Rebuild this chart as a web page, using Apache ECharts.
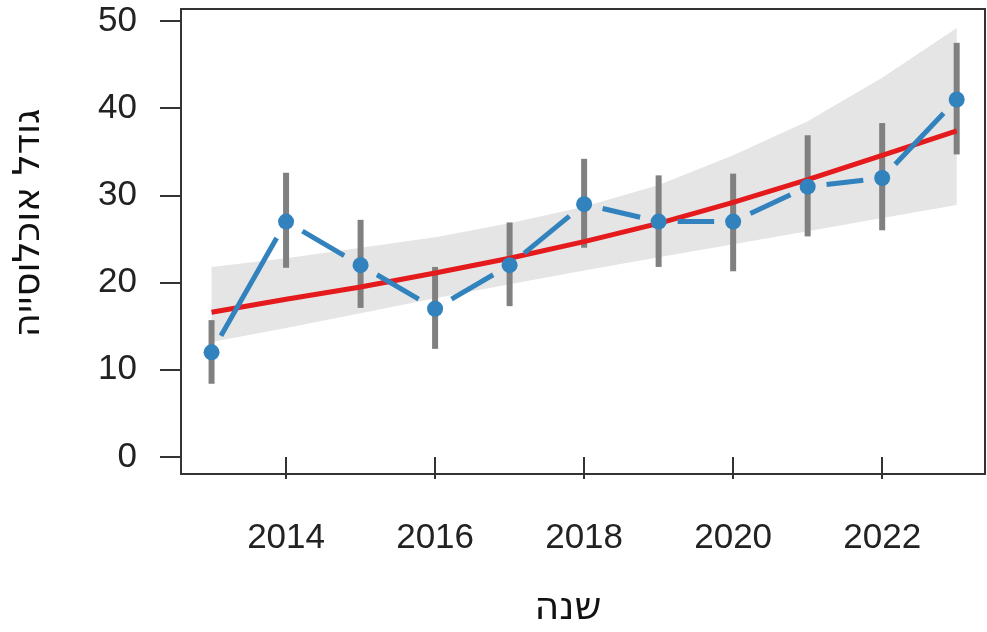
<!DOCTYPE html>
<html>
<head>
<meta charset="utf-8">
<script src="https://cdn.jsdelivr.net/npm/echarts@6/dist/echarts.min.js"></script>
<style>
html,body{margin:0;padding:0;background:#fff;}
#chart{width:987px;height:632px;}
</style>
</head>
<body>
<div id="chart"></div>
<script>
// ---- data ----
const years     = [2013, 2014, 2015, 2016, 2017, 2018, 2019, 2020, 2021, 2022, 2023];
const popMean   = [12, 27, 22, 17, 22, 29, 27, 27, 31, 32, 41];
const ciLow     = [8.4, 21.7, 17.1, 12.4, 17.3, 24.0, 21.8, 21.3, 25.3, 26.0, 34.7];
const ciHigh    = [15.7, 32.6, 27.2, 21.8, 26.9, 34.2, 32.3, 32.5, 36.9, 38.3, 47.5];
const trendFit  = [16.6, 18.1, 19.5, 21.1, 22.8, 24.7, 26.8, 29.2, 31.8, 34.6, 37.4];
const bandLow   = [13.2, 14.8, 16.5, 18.2, 19.8, 21.4, 22.9, 24.4, 25.9, 27.4, 28.9];
const bandHigh  = [21.8, 22.8, 24.0, 25.2, 26.8, 28.7, 31.2, 34.6, 38.5, 43.5, 49.2];
const xTicks    = [2014, 2016, 2018, 2020, 2022];
const yTicks    = [0, 10, 20, 30, 40, 50];
const xTitle    = 'שנה';
const yTitle    = 'גודל אוכלוסייה';

const FONT = '"Liberation Sans", "DejaVu Sans", Arial, sans-serif';
const HFONT = '"DejaVu Sans", "Liberation Sans", sans-serif';
const chart = echarts.init(document.getElementById('chart'), null, {renderer: 'canvas'});

const option = {
  animation: false,
  backgroundColor: '#ffffff',
  grid: {left: 181, right: 2, top: 9, bottom: 158, show: true, borderColor: '#333333', borderWidth: 2, backgroundColor: 'transparent'},
  xAxis: {
    type: 'value', min: 2012.59, max: 2023.38,
    axisLine: {show: false},
    splitLine: {show: false},
    axisTick: {show: true, customValues: xTicks, length: 22, lineStyle: {color: '#333333', width: 2}},
    axisLabel: {customValues: xTicks, fontSize: 35, color: '#222222', fontFamily: FONT, margin: 47, formatter: v => String(v)}
  },
  yAxis: {
    type: 'value', min: -1.95, max: 51.38,
    axisLine: {show: false},
    splitLine: {show: false},
    axisTick: {show: true, customValues: yTicks, length: 21, lineStyle: {color: '#333333', width: 2}},
    axisLabel: {customValues: yTicks, fontSize: 35, color: '#222222', fontFamily: FONT, margin: 44, formatter: v => String(v)}
  },
  graphic: [
    {type: 'text', x: 568, y: 609, style: {text: xTitle, fontSize: 38, fontFamily: HFONT, fill: '#111111', textAlign: 'center', textVerticalAlign: 'middle'}},
    {type: 'text', x: 29, y: 223, rotation: Math.PI / 2, style: {text: yTitle, fontSize: 37, fontFamily: HFONT, fill: '#111111', textAlign: 'center', textVerticalAlign: 'middle'}}
  ],
  series: [
    {
      name: 'band', type: 'custom', z: 1, clip: false,
      data: years.map((y, i) => [y, bandLow[i], bandHigh[i]]),
      encode: {x: 0, y: [1, 2]},
      renderItem: function (params, api) {
        if (params.dataIndex !== 0) return null;
        const pts = [];
        for (let i = 0; i < years.length; i++) pts.push(api.coord([years[i], bandHigh[i]]));
        for (let i = years.length - 1; i >= 0; i--) pts.push(api.coord([years[i], bandLow[i]]));
        return {type: 'polygon', shape: {points: pts}, style: {fill: '#E5E5E5', stroke: null}};
      }
    },
    {
      name: 'errorbars', type: 'custom', z: 2,
      data: years.map((y, i) => [y, ciLow[i], ciHigh[i]]),
      encode: {x: 0, y: [1, 2]},
      renderItem: function (params, api) {
        const a = api.coord([api.value(0), api.value(1)]);
        const b = api.coord([api.value(0), api.value(2)]);
        return {type: 'line', shape: {x1: a[0], y1: a[1], x2: b[0], y2: b[1]}, style: {stroke: '#808080', lineWidth: 6, lineCap: 'butt'}};
      }
    },
    {
      name: 'trend', type: 'line', z: 3,
      data: years.map((y, i) => [y, trendFit[i]]),
      smooth: false, showSymbol: false, symbol: 'none',
      lineStyle: {color: '#E41A1C', width: 5},
      emphasis: {disabled: true}
    },
    {
      name: 'meanLine', type: 'custom', z: 4,
      data: years.map((y, i) => [y, popMean[i]]),
      encode: {x: 0, y: 1},
      renderItem: function (params, api) {
        const i = params.dataIndex;
        if (i === 0) return null;
        const p0 = api.coord([years[i - 1], popMean[i - 1]]);
        const p1 = api.coord([api.value(0), api.value(1)]);
        const dx = p1[0] - p0[0], dy = p1[1] - p0[1];
        const len = Math.sqrt(dx * dx + dy * dy);
        const g = 19;
        if (len <= 2 * g) return null;
        const ux = dx / len, uy = dy / len;
        return {type: 'line', shape: {x1: p0[0] + ux * g, y1: p0[1] + uy * g, x2: p1[0] - ux * g, y2: p1[1] - uy * g},
                style: {stroke: '#3182BD', lineWidth: 5, lineCap: 'butt'}};
      }
    },
    {
      name: 'mean', type: 'scatter', z: 5,
      data: years.map((y, i) => [y, popMean[i]]),
      symbol: 'circle', symbolSize: 16,
      itemStyle: {color: '#3182BD', opacity: 1},
      emphasis: {disabled: true}
    }
  ]
};
chart.setOption(option);
</script>
</body>
</html>
